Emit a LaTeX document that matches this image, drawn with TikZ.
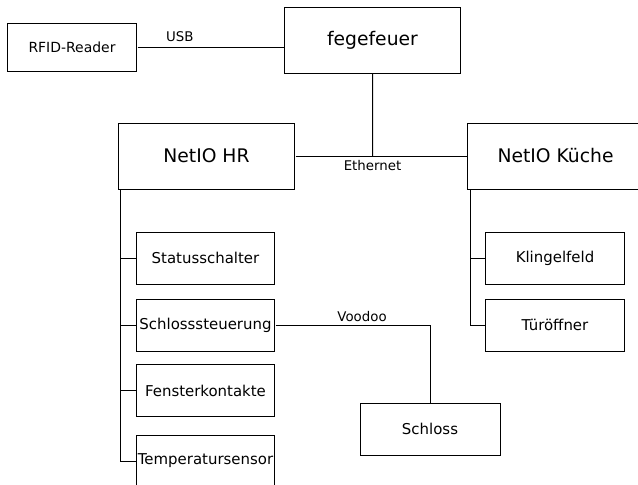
\documentclass[tikz,border=0pt]{standalone}
\usepackage{fontspec}
\setmainfont{DejaVu Sans}
\usepackage{tikz}

\begin{document}
\begin{tikzpicture}[scale=0.3528,
    bigbox/.style={draw, line width=1bp, minimum width=177bp, minimum height=66bp, font=\fontsize{18.8}{22}\selectfont},
    smallbox/.style={draw, line width=1bp, minimum width=139bp, minimum height=52bp, font=\fontsize{15}{18}\selectfont},
    wire/.style={line width=1bp},
    wirelabel/.style={font=\fontsize{13.4}{15}\selectfont, inner sep=1.5bp}]
    \tikzstyle{every node}+=[inner sep=0pt]
    \useasboundingbox (0,0) rectangle (63.8,-48.5);
    \node [smallbox, minimum width=130bp, minimum height=48bp, font=\fontsize{14}{17}\selectfont] (rfid) at (7.2,-4.7) {RFID-Reader};
    \node [bigbox] (fege) at (37.25,-4.0) {fegefeuer};
    \node [bigbox] (hr) at (20.65,-15.6) {NetIO HR};
    \node [bigbox] (kueche) at (55.55,-15.6) {NetIO Küche};
    \node [smallbox] (status) at (20.55,-25.8) {Statusschalter};
    \node [smallbox] (steuer) at (20.55,-32.5) {Schlosssteuerung};
    \node [smallbox] (fenster) at (20.55,-39.05) {Fensterkontakte};
    \node [smallbox] (temp) at (20.55,-46.1) {Temperatursensor};
    \node [smallbox] (klingel) at (55.5,-25.8) {Klingelfeld};
    \node [smallbox] (tuer) at (55.5,-32.5) {Türöffner};
    \node [smallbox, minimum width=140bp] (schloss) at (43.0,-42.9) {Schloss};
    \coordinate (hrbus) at (12.0,-18.9);
    \coordinate (kbus) at (47.0,-18.9);
    \coordinate (eth) at (fege.south |- hr.east);
    \draw [wire] (rfid.east) -- (rfid.east -| fege.west) node [wirelabel, pos=0.29, above=3bp] {USB};
    \draw [wire] (fege.south) -- (eth);
    \draw [wire] (hr.east) -- (kueche.west);
    \node [wirelabel, below=3bp] (ethlabel) at (eth) {Ethernet};
    \draw [wire] (hrbus) |- (temp.west);
    \draw [wire] (hrbus |- status.west) -- (status.west);
    \draw [wire] (hrbus |- steuer.west) -- (steuer.west);
    \draw [wire] (hrbus |- fenster.west) -- (fenster.west);
    \draw [wire] (kbus) |- (tuer.west);
    \draw [wire] (kbus |- klingel.west) -- (klingel.west);
    \draw [wire] (steuer.east) -| (schloss.north) node [wirelabel, pos=0.28, above=1bp] {Voodoo};
\end{tikzpicture}
\end{document}
